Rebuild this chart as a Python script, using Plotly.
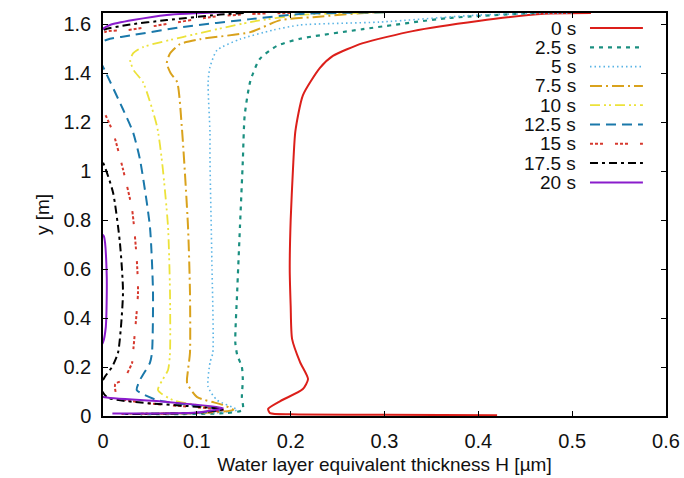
import plotly.graph_objects as go

# ---- data (H in µm, y in m) ----
names = ["0 s", "2.5 s", "5 s", "7.5 s", "10 s", "12.5 s", "15 s", "17.5 s", "20 s"]

H_0 = [0.52, 0.47, 0.40, 0.33, 0.277, 0.245, 0.231, 0.213, 0.205, 0.2025, 0.200, 0.199, 0.200, 0.2015, 0.210, 0.2185, 0.213, 0.189, 0.176, 0.178, 0.20, 0.30, 0.42]
Y_0 = [1.645, 1.642, 1.612, 1.571, 1.522, 1.47, 1.42, 1.309, 1.162, 1.01, 0.80, 0.60, 0.45, 0.315, 0.22, 0.151, 0.11, 0.061, 0.029, 0.012, 0.007, 0.005, 0.003]

H_25 = [0.46, 0.367, 0.277, 0.21, 0.185, 0.167, 0.157, 0.151, 0.149, 0.146, 0.143, 0.141, 0.143, 0.148, 0.149, 0.148, 0.149, 0.13, 0.04]
Y_25 = [1.645, 1.624, 1.579, 1.54, 1.51, 1.457, 1.367, 1.227, 1.04, 0.777, 0.507, 0.30, 0.25, 0.20, 0.147, 0.078, 0.025, 0.012, 0.007]

H_5 = [0.50, 0.402, 0.295, 0.21, 0.181, 0.146, 0.1215, 0.114, 0.112, 0.114, 0.114, 0.116, 0.117, 0.114, 0.112, 0.1215, 0.143, 0.12, 0.03]
Y_5 = [1.645, 1.637, 1.608, 1.596, 1.575, 1.538, 1.493, 1.424, 1.363, 1.158, 1.047, 0.638, 0.258, 0.217, 0.119, 0.065, 0.025, 0.013, 0.008]

H_75 = [0.40, 0.295, 0.224, 0.189, 0.157, 0.103, 0.082, 0.0714, 0.068, 0.072, 0.079, 0.084, 0.0906, 0.0927, 0.0927, 0.0906, 0.0896, 0.10, 0.128, 0.139, 0.11, 0.02]
Y_75 = [1.65, 1.649, 1.628, 1.616, 1.567, 1.538, 1.518, 1.48, 1.44, 1.40, 1.363, 1.18, 0.773, 0.503, 0.258, 0.188, 0.135, 0.078, 0.045, 0.025, 0.013, 0.008]

H_10 = [0.30, 0.21, 0.157, 0.085, 0.0426, 0.032, 0.029, 0.033, 0.0426, 0.0576, 0.063, 0.0693, 0.0714, 0.0714, 0.0693, 0.0586, 0.0746, 0.128, 0.10, 0.02]
Y_10 = [1.648, 1.637, 1.608, 1.547, 1.506, 1.48, 1.45, 1.41, 1.363, 1.182, 1.035, 0.773, 0.503, 0.258, 0.188, 0.106, 0.065, 0.025, 0.013, 0.008]

H_125 = [0.30, 0.21, 0.157, 0.085, 0.032, 0.005, -0.003, -0.003, 0.002, 0.0213, 0.032, 0.0394, 0.05, 0.0533, 0.0522, 0.05, 0.0394, 0.036, 0.0576, 0.128, 0.10, 0.02]
Y_125 = [1.648, 1.641, 1.62, 1.588, 1.555, 1.537, 1.52, 1.45, 1.41, 1.252, 1.158, 1.047, 0.773, 0.503, 0.258, 0.217, 0.147, 0.106, 0.065, 0.025, 0.013, 0.008]

H_15 = [0.20, 0.157, 0.114, 0.068, 0.0256, 0.004, -0.004, -0.004, 0.0, 0.0107, 0.0213, 0.031, 0.036, 0.0373, 0.032, 0.031, 0.0213, 0.013, 0.016, 0.128, 0.10, 0.02]
Y_15 = [1.645, 1.641, 1.628, 1.60, 1.575, 1.57, 1.55, 1.28, 1.25, 1.158, 1.007, 0.843, 0.638, 0.503, 0.258, 0.217, 0.147, 0.13, 0.075, 0.025, 0.013, 0.008]

H_175 = [0.15, 0.1215, 0.068, 0.0256, 0.0, -0.005, -0.005, 0.0, 0.0107, 0.018, 0.0213, 0.016, 0.0096, 0.002, -0.003, 0.005, 0.128, 0.10, 0.02]
Y_175 = [1.645, 1.637, 1.616, 1.596, 1.575, 1.55, 1.06, 1.035, 0.912, 0.708, 0.503, 0.258, 0.20, 0.16, 0.12, 0.075, 0.028, 0.013, 0.008]

H_20 = [0.13, 0.068, 0.032, 0.0075, 0.0, -0.005, -0.005, 0.001, 0.004, 0.003, 0.0, -0.005, -0.005, 0.0, 0.06, 0.128, 0.10, 0.01]
Y_20 = [1.649, 1.637, 1.616, 1.596, 1.58, 1.55, 0.76, 0.733, 0.569, 0.364, 0.30, 0.27, 0.09, 0.078, 0.06, 0.033, 0.014, 0.01]

H_all = [H_0, H_25, H_5, H_75, H_10, H_125, H_15, H_175, H_20]
Y_all = [Y_0, Y_25, Y_5, Y_75, Y_10, Y_125, Y_15, Y_175, Y_20]

colors = ["#dc1f1a", "#1a8f80", "#5ab4e5", "#d9a21c", "#ece23a", "#1a78aa", "#d6392e", "#000000", "#8a1ccc"]
dashes = ["solid", "4px,5px", "1.5px,3px", "12px,4px,2px,4px", "10px,4px,2px,3px,2px,4px",
          "10px,6px", "3px,2px,3px,2px,3px,12px", "8px,4px,3px,4px", "solid"]
widths = [2, 2.2, 1.6, 2, 1.8, 2, 2, 2, 2]

FONT = "Liberation Sans, Arial, sans-serif"
FS = 19
TFS = 20

fig = go.Figure()
for name, h, y, c, d, w in zip(names, H_all, Y_all, colors, dashes, widths):
    fig.add_trace(go.Scatter(x=h, y=y, mode="lines", name=name,
                             line=dict(color=c, dash=d, width=w, shape="spline", smoothing=0.6),
                             showlegend=False))

# custom gnuplot-style key (text right-aligned, sample on the right)
y0_px, step_px, plot_h = 15, 19.3, 403
for i, (name, c, d, w) in enumerate(zip(names, colors, dashes, widths)):
    yp = 1 - (y0_px + step_px * i) / plot_h
    fig.add_annotation(x=0.8437, y=yp, xref="paper", yref="paper", text=name,
                       showarrow=False, xanchor="right", yanchor="middle",
                       font=dict(family=FONT, size=FS, color="#111"))
    fig.add_shape(type="line", xref="paper", yref="paper", x0=0.865, x1=0.959, y0=yp, y1=yp,
                  line=dict(color=c, dash=d, width=w))

axis_common = dict(showline=True, linecolor="black", linewidth=1.5, mirror="allticks",
                   ticks="inside", ticklen=5, tickwidth=1, tickcolor="black",
                   showgrid=False, zeroline=False, ticklabelstandoff=6,
                   tickfont=dict(family=FONT, size=TFS, color="#111"))

fig.update_xaxes(range=[0, 0.6], dtick=0.1, tickformat="~g",
                 title=dict(text="Water layer equivalent thickness H [µm]", standoff=7,
                            font=dict(family=FONT, size=FS, color="#111")),
                 **axis_common)
fig.update_yaxes(range=[0, 1.645], dtick=0.2, tickformat="~g",
                 title=dict(text="y [m]", standoff=9,
                            font=dict(family=FONT, size=FS, color="#111")),
                 **axis_common)

fig.update_layout(width=684, height=478, margin=dict(l=103, r=18, t=13, b=62, autoexpand=False),
                  plot_bgcolor="white", paper_bgcolor="white")

fig.write_html("out.html", config={"displayModeBar": False},
               post_script="document.body.style.margin='0px';")
